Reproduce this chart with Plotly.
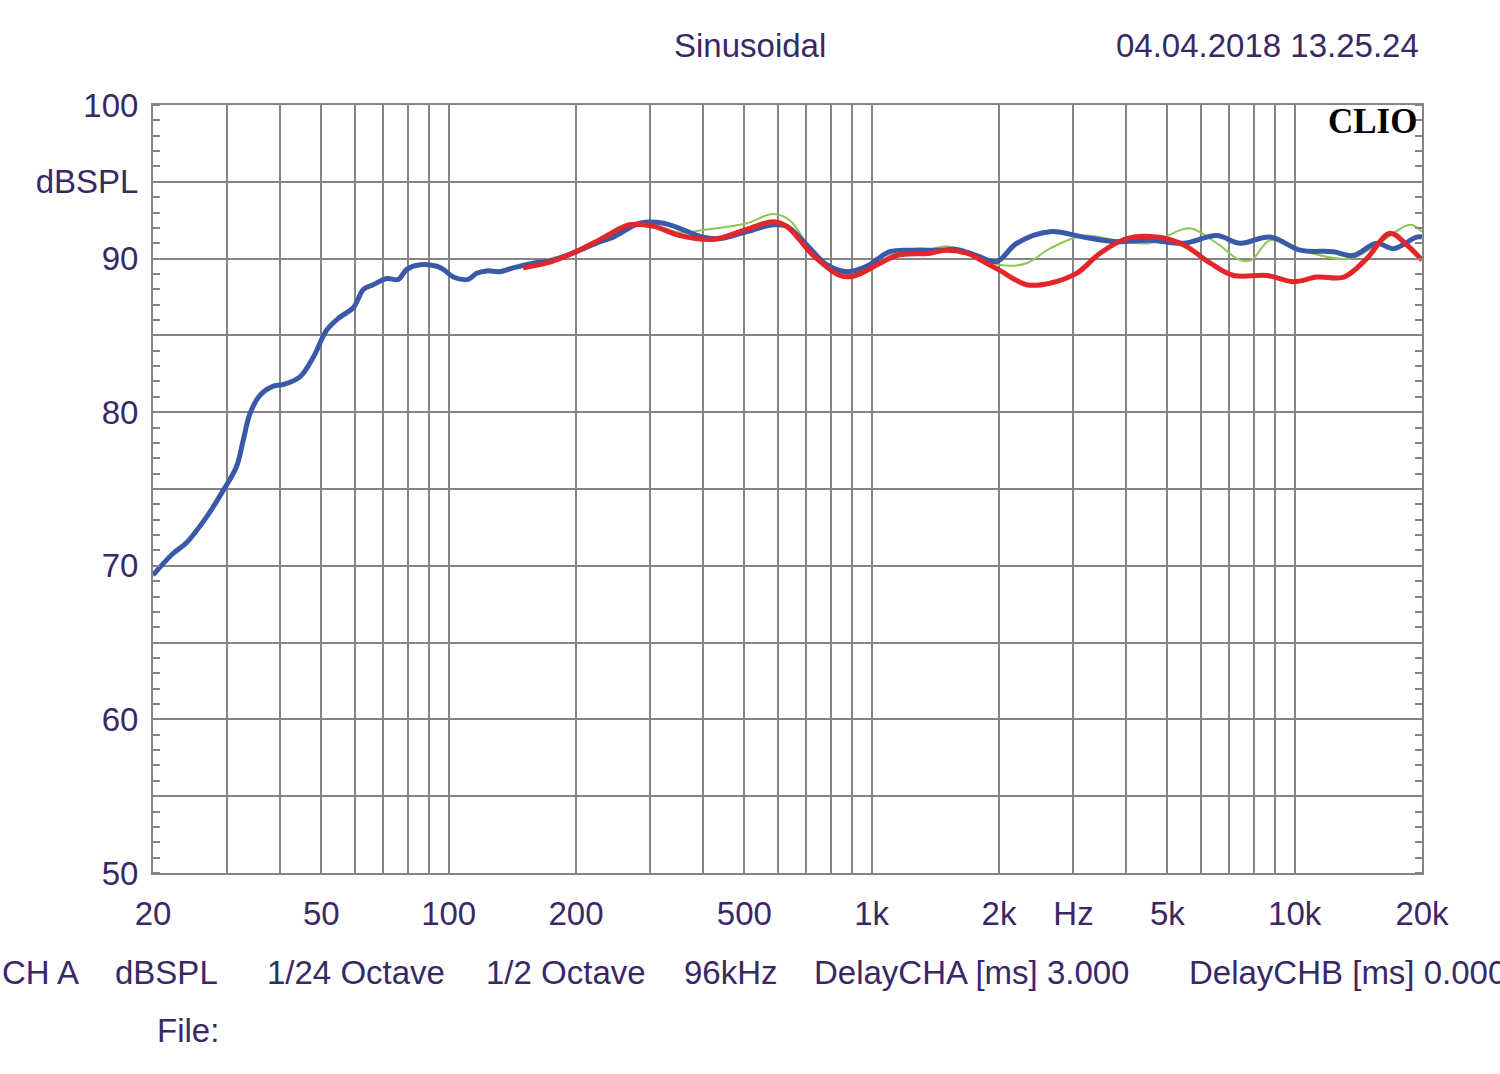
import plotly.graph_objects as go
import numpy as np

# ---- data ----
blue_f = [20, 22.3, 24, 26.8, 29.3, 31.5, 32.7, 33.9, 35.8, 38.5, 40.6, 44.5, 47.9, 51.5, 55.4,
          59.5, 62.9, 66.3, 71.4, 76, 79.6, 85.5, 93.7, 97.1, 102.6, 111.3, 116.5, 123, 132, 142,
          158.5, 176.7, 200, 228, 245, 283, 322, 400, 438, 506, 585, 630, 702, 783, 873, 973,
          1104, 1254, 1450, 1588, 1770, 1974, 2203, 2637, 3170, 3795, 4550, 5457, 6546, 7430,
          8750, 10300, 12350, 13750, 15620, 17100, 19420, 20000]
blue_db = [69.4, 70.8, 71.5, 73.2, 74.9, 76.45, 78.2, 79.9, 81.1, 81.7, 81.8, 82.3, 83.6, 85.35, 86.2,
           86.8, 88.0, 88.3, 88.7, 88.65, 89.3, 89.6, 89.5, 89.3, 88.8, 88.65, 89.05, 89.2, 89.15, 89.4,
           89.7, 89.9, 90.45, 91.1, 91.4, 92.3, 92.3, 91.4, 91.3, 91.75, 92.2, 92.1, 90.9, 89.6, 89.15, 89.5,
           90.45, 90.55, 90.55, 90.6, 90.2, 89.8, 91.0, 91.75, 91.4, 91.1, 91.2, 91.0, 91.5, 91.0,
           91.4, 90.55, 90.45, 90.2, 91.0, 90.65, 91.4, 91.4]

red_f = [150, 175, 200, 230, 268, 305, 352, 422, 506, 585, 630, 728, 841, 905, 1047, 1146, 1374,
         1504, 1700, 1838, 2003, 2324, 2637, 3055, 3466, 4010, 4720, 5457, 6320, 7180, 8600, 9950,
         11300, 13070, 14800, 16800, 18400, 20000]
red_db = [89.4, 89.8, 90.45, 91.3, 92.2, 92.1, 91.5, 91.25, 91.9, 92.4, 92.1, 90.2, 88.9, 88.85, 89.7,
          90.2, 90.35, 90.55, 90.3, 89.8, 89.25, 88.3, 88.4, 89.05, 90.35, 91.3, 91.4, 90.9, 89.7, 88.9,
          88.9, 88.5, 88.8, 88.8, 90.0, 91.65, 90.9, 89.9]

green_f = [150, 200, 268, 305, 352, 408, 506, 585, 640, 728, 841, 905, 1047, 1146, 1374, 1504, 1700,
           2003, 2324, 2637, 3170, 3795, 4550, 5630, 6546, 7430, 7900, 8750, 10300, 13500, 15620,
           18760, 20000]
green_db = [89.6, 90.5, 92.3, 92.2, 91.7, 91.9, 92.3, 92.9, 92.5, 90.4, 89.1, 89.0, 89.8, 90.4, 90.6,
            90.8, 90.4, 89.6, 89.7, 90.65, 91.5, 91.2, 91.0, 91.97, 91.0, 89.9, 89.9, 91.2, 90.55, 90.0,
            90.9, 92.2, 91.75]

x_grid = [20, 30, 40, 50, 60, 70, 80, 90, 100, 200, 300, 400, 500, 600, 700, 800, 900,
          1000, 2000, 3000, 4000, 5000, 6000, 7000, 8000, 9000, 10000, 20000]
x_labels = {20: "20", 50: "50", 100: "100", 200: "200", 500: "500", 1000: "1k", 2000: "2k",
            3000: "Hz", 5000: "5k", 10000: "10k", 20000: "20k"}
y_ticks = [50, 55, 60, 65, 70, 75, 80, 85, 90, 95, 100]
y_labels = {50: "50", 60: "60", 70: "70", 80: "80", 90: "90", 95: "dBSPL", 100: "100"}

TXT = "#3a2866"
FONT = "Liberation Sans, Arial, sans-serif"
FS = 33

fig = go.Figure()
fig.add_trace(go.Scatter(x=green_f, y=green_db, mode="lines", line=dict(color="#8dc653", width=2, shape="spline"), hoverinfo="skip"))
fig.add_trace(go.Scatter(x=blue_f, y=blue_db, mode="lines", line=dict(color="#3a59a8", width=5, shape="spline"), hoverinfo="skip"))
fig.add_trace(go.Scatter(x=red_f, y=red_db, mode="lines", line=dict(color="#e3262b", width=5, shape="spline"), hoverinfo="skip"))

fig.update_layout(
    width=1500, height=1074,
    margin=dict(l=153, r=78, t=105, b=201),
    paper_bgcolor="white", plot_bgcolor="white",
    showlegend=False,
    font=dict(family=FONT, color=TXT, size=FS),
)
fig.update_xaxes(
    type="log", range=[np.log10(20), np.log10(20000)],
    tickmode="array", tickvals=x_grid, ticktext=[x_labels.get(v, "") for v in x_grid],
    showgrid=True, gridcolor="#858585", gridwidth=1.5,
    showline=True, linecolor="#858585", linewidth=2, mirror=True,
    ticks="", ticklabelstandoff=10,
    tickfont=dict(family=FONT, color=TXT, size=FS), zeroline=False,
)
fig.update_yaxes(
    range=[50, 100],
    tickmode="array", tickvals=y_ticks, ticktext=[y_labels.get(v, "") for v in y_ticks],
    showgrid=True, gridcolor="#858585", gridwidth=1.5,
    showline=True, linecolor="#858585", linewidth=2, mirror="allticks",
    ticks="", ticklabelstandoff=6,
    minor=dict(tickmode="linear", tick0=50, dtick=1, ticks="inside", ticklen=7,
               tickcolor="#858585", tickwidth=1.5, showgrid=False),
    tickfont=dict(family=FONT, color=TXT, size=FS), zeroline=False,
)

def txt(x, y, s, xa="left", size=FS, color=TXT, family=FONT):
    fig.add_annotation(xref="paper", yref="paper", x=x, y=y, text=s, showarrow=False,
                       xanchor=xa, yanchor="middle", font=dict(family=family, size=size, color=color))

W, H = 1269.0, 768.0
def px(xp): return (xp - 153) / W
def py(yp): return (873 - yp) / H

txt(px(750), py(45), "Sinusoidal", xa="center")
txt(px(1421), py(45), "04.04.2018 13.25.24", xa="right")
txt(px(1419), py(122), "<b>CLIO</b>", xa="right", size=35, color="black",
    family="Liberation Serif, Times New Roman, serif")

bottom = [(0, "CH A"), (113, "dBSPL"), (265, "1/24 Octave"), (484, "1/2 Octave"), (682, "96kHz"),
          (812, "DelayCHA [ms] 3.000"), (1187, "DelayCHB [ms] 0.000")]
for xp, s in bottom:
    txt(px(xp), py(972), s)
txt(px(155), py(1030), "File:")

fig.write_html("out.html")
